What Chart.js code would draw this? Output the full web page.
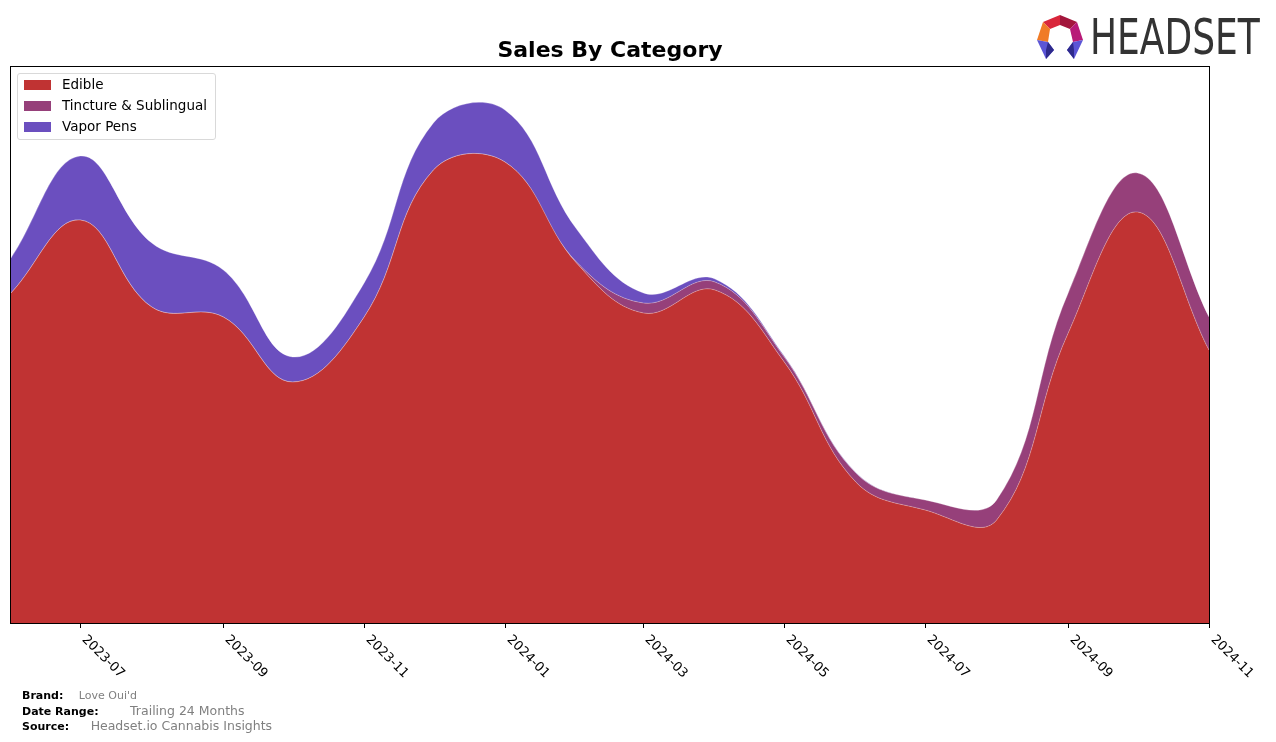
<!DOCTYPE html>
<html>
<head>
<meta charset="utf-8">
<script src="https://cdn.jsdelivr.net/npm/chart.js@4"></script>
<style>
  body { margin: 0; background: #fff; font-family: "DejaVu Sans", sans-serif; }
  #wrap { position: relative; width: 1276px; height: 742px; }
  #title { position: absolute; left: 11px; width: 1198px; top: 37px; text-align: center;
           font-weight: bold; font-size: 22px; color: #000; }
  #legend { position: absolute; left: 17px; top: 73px; width: 197px; height: 65px;
            border: 1px solid #d9d9d9; border-radius: 3px; background: rgba(255,255,255,0.8);
            font-size: 13.5px; }
  .row { position: absolute; left: 6px; height: 16px; line-height: 16px; }
  .sw { display: inline-block; width: 27px; height: 10px; vertical-align: -1px; margin-right: 11px; }
  #footer { position: absolute; left: 22px; top: 689px; font-size: 11px; line-height: 14.5px; }
  #footer b { color: #000; }
  .g { color: #808080; }
  #logo { position: absolute; left: 1036px; top: 14px; }
  #logotext { position: absolute; left: 1090px; top: 8px; font-family: "DejaVu Sans Condensed", "DejaVu Sans", sans-serif;
              font-size: 50px; color: #333; transform: scaleX(0.8); transform-origin: left top; }
</style>
</head>
<body>
<div id="wrap">
  <canvas id="c" width="1276" height="742"></canvas>
  <div id="title">Sales By Category</div>
  <div id="legend">
    <div class="row" style="top:2px"><span class="sw" style="background:#c03333"></span>Edible</div>
    <div class="row" style="top:23px"><span class="sw" style="background:#96407a"></span>Tincture &amp; Sublingual</div>
    <div class="row" style="top:44px"><span class="sw" style="background:#6b4fbf"></span>Vapor Pens</div>
  </div>
  <div id="footer">
    <div><b>Brand:</b> <span class="g" style="margin-left:12px">Love Oui'd</span></div>
    <div><b>Date Range:</b> <span class="g" style="margin-left:28px;font-size:12.5px">Trailing 24 Months</span></div>
    <div><b>Source:</b> <span class="g" style="margin-left:18px;font-size:12.5px">Headset.io Cannabis Insights</span></div>
  </div>
  <svg id="logo" width="50" height="48" viewBox="1036 14 50 48">
    <polygon points="1043,22 1060,15 1060,25 1050,29" fill="#d9263b"/>
    <polygon points="1060,15 1077,22 1070,29 1060,25" fill="#a3163c"/>
    <polygon points="1077,22 1083,40 1073,42 1070,29" fill="#b81a78"/>
    <polygon points="1043,22 1050,29 1048,42 1037,40" fill="#f07b26"/>
    <polygon points="1037,40 1048,42 1054,50 1046,59" fill="#5b55d6"/>
    <polygon points="1046,59 1054,50 1048,42 1046,50" fill="#2e2a8c"/>
    <polygon points="1083,40 1073,42 1067,50 1074,59" fill="#5b55d6"/>
    <polygon points="1074,59 1067,50 1073,42 1074,50" fill="#2e2a8c"/>
  </svg>
  <div id="logotext">HEADSET</div>
</div>
<script>
// monthly data, bottom to top of the stack
const months = ['2023-06','2023-07','2023-08','2023-09','2023-10','2023-11','2023-12','2024-01','2024-02',
                '2024-03','2024-04','2024-05','2024-06','2024-07','2024-08','2024-09','2024-10','2024-11'];
const edible   = [330, 403, 316, 306, 241, 306, 453, 461, 360, 310, 333, 261, 141, 113, 103, 290, 411, 273];
const tincture = [0, 0, 0, 0, 0, 0, 0, 0, 1, 10, 8, 5, 9, 10, 20, 40, 39, 33];
const vapor    = [35, 64, 64, 47, 25, 34, 47, 52, 33, 10, 3, 1, 0.5, 0, 0, 0, 0, 0];
const tickLabels = ['2023-07','2023-09','2023-11','2024-01','2024-03','2024-05','2024-07','2024-09','2024-11'];

function ts(m) {
    var p = m.split('-');
    return Date.UTC(+p[0], +p[1] - 1, 1);
}
function pts(vals) {
    return vals.map(function (v, i) { return { x: ts(months[i]), y: v }; });
}

var axisPlugin = {
    id: 'axisDeco',
    afterDraw: function (chart) {
        var ctx = chart.ctx, a = chart.chartArea, xs = chart.scales.x;
        ctx.save();
        ctx.strokeStyle = '#000';
        ctx.lineWidth = 1;
        ctx.strokeRect(a.left - 0.5, a.top - 0.5, a.right - a.left + 1, a.bottom - a.top + 1);
        ctx.font = '13px "DejaVu Sans"';
        ctx.fillStyle = '#000';
        tickLabels.forEach(function (t) {
            var x = Math.round(xs.getPixelForValue(ts(t))) + 0.5;
            ctx.beginPath();
            ctx.moveTo(x, a.bottom);
            ctx.lineTo(x, a.bottom + 5);
            ctx.stroke();
            ctx.save();
            ctx.translate(x + 8, a.bottom + 10);
            ctx.rotate(Math.PI / 4);
            ctx.textAlign = 'left';
            ctx.textBaseline = 'top';
            ctx.fillText(t, 0, 0);
            ctx.restore();
        });
        ctx.restore();
    }
};

var common = { pointRadius: 0, borderWidth: 0.8, borderColor: 'rgba(255,255,255,0.35)', tension: 0.4 };

new Chart(document.getElementById('c'), {
    type: 'line',
    data: {
        datasets: [
            Object.assign({ label: 'Edible', data: pts(edible), backgroundColor: '#c03333', fill: 'origin' }, common),
            Object.assign({ label: 'Tincture & Sublingual', data: pts(tincture), backgroundColor: '#96407a', fill: '-1' }, common),
            Object.assign({ label: 'Vapor Pens', data: pts(vapor), backgroundColor: '#6b4fbf', fill: '-1' }, common)
        ]
    },
    options: {
        responsive: false,
        animation: false,
        layout: { padding: { left: 11, right: 67, top: 67, bottom: 119 } },
        plugins: { legend: { display: false }, tooltip: { enabled: false } },
        scales: {
            x: { type: 'linear', display: false, min: ts('2023-06'), max: ts('2024-11') },
            y: { display: false, stacked: true, min: 0, max: 556 }
        }
    },
    plugins: [axisPlugin]
});
</script>
</body>
</html>
